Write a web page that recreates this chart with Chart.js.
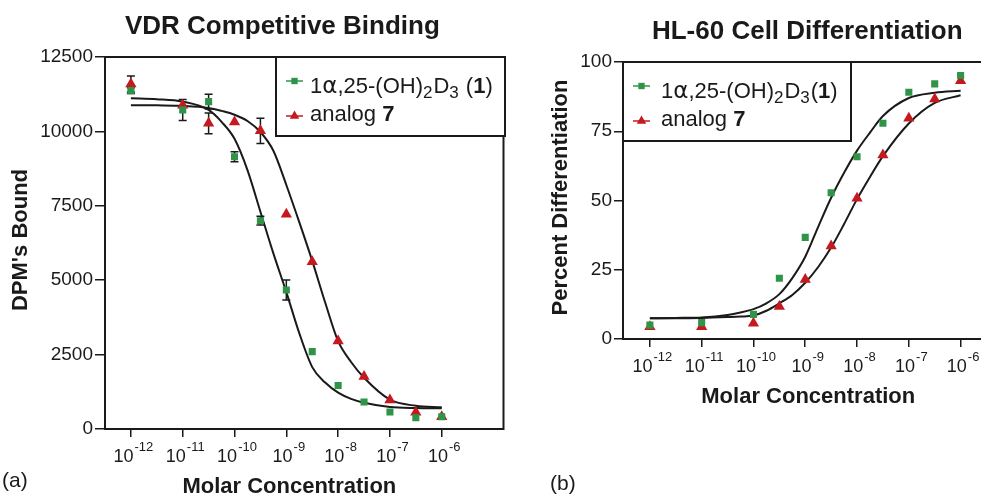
<!DOCTYPE html>
<html>
<head>
<meta charset="utf-8">
<title>VDR Competitive Binding / HL-60 Cell Differentiation</title>
<script src="https://cdn.jsdelivr.net/npm/chart.js"></script>
<style>
  html, body { margin: 0; padding: 0; background: #fff; overflow: hidden; }
  #wrap { position: relative; width: 981px; height: 494px; overflow: hidden; }
  canvas { position: absolute; top: 0; }
  #chartA { left: 0; }
  #chartB { left: 510px; }
</style>
</head>
<body>
<div id="wrap">
  <canvas id="chartA" width="510" height="494"></canvas>
  <canvas id="chartB" width="480" height="494"></canvas>
</div>
<script>
// concentrations are stored as log10(M)
const doseTicks = [-12, -11, -10, -9, -8, -7, -6];

// (a) VDR competitive binding - DPM's bound
const bindingDose = [-12, -11, -10.5, -10, -9.5, -9, -8.5, -8, -7.5, -7, -6.5, -6];
const bindingCalcitriol = [11370, 10720, 11000, 9150, 7000, 4670, 2600, 1460, 910, 570, 380, 410];
const bindingCalcitriolErr = [100, 350, 250, 170, 145, 335, 0, 0, 0, 0, 0, 0];
const bindingAnalog = [11590, 10880, 10270, 10320, 10020, 7215, 5620, 2960, 1760, 975, 560, 415];
const bindingAnalogErr = [270, 0, 350, 0, 425, 0, 0, 0, 0, 0, 0, 0];

// fitted curves
const fitDose = [-12, -11.5, -11, -10.5, -10.25, -10, -9.75, -9.5, -9.25, -9, -8.75, -8.5, -8.25, -8, -7.75, -7.5, -7, -6.5, -6];
const bindingCalcitriolFit = [11110, 11080, 11000, 10720, 10320, 9750, 8700, 7300, 5900, 4600, 3220, 2080, 1560, 1220, 1010, 880, 740, 705, 695];
const bindingAnalogFit = [10880, 10875, 10860, 10790, 10690, 10560, 10350, 9980, 9350, 8200, 6950, 5650, 4250, 2950, 2250, 1720, 985, 780, 730];

// (b) HL-60 cell differentiation - percent
const diffDose = [-12, -11, -10, -9.5, -9, -8.5, -8, -7.5, -7, -6.5, -6];
const diffCalcitriol = [5.0, 5.9, 8.9, 21.9, 36.7, 52.8, 65.8, 77.9, 89.1, 92.1, 95.1];
const diffAnalog = [4.4, 4.4, 5.7, 11.7, 21.5, 33.6, 50.8, 66.4, 79.7, 86.6, 93.2];
const diffCalcitriolFit = [7.5, 7.6, 7.8, 8.7, 9.6, 10.8, 12.9, 16.2, 22.0, 29.7, 40.5, 51.0, 60.0, 68.0, 74.5, 80.5, 87.0, 88.9, 89.6];
const diffAnalogFit = [7.5, 7.5, 7.6, 7.9, 8.1, 8.5, 10.2, 12.9, 15.9, 20.3, 26.0, 33.0, 41.5, 50.5, 58.5, 66.0, 77.8, 85.2, 88.0];

// legend texts split in pieces: n = normal, g = greek, sub = subscript, b = bold
const calcitriolLabelA = [['1', 'n'], ['α', 'g'], [',25-(OH)', 'n'], ['2', 'sub'], ['D', 'n'], ['3', 'sub'], [' (', 'n'], ['1', 'b'], [')', 'n']];
const calcitriolLabelB = [['1', 'n'], ['α', 'g'], [',25-(OH)', 'n'], ['2', 'sub'], ['D', 'n'], ['3', 'sub'], ['(', 'n'], ['1', 'b'], [')', 'n']];
const analogLabel = [['analog ', 'n'], ['7', 'b']];

const GREEN = '#2f9447';
const RED = '#c41a1f';
const INK = '#1a1a1a';
const FONT = '"Liberation Sans", Arial, Helvetica, sans-serif';

function pts(xs, ys) {
    return xs.map((x, i) => ({ x: x, y: ys[i] }));
}

function drawMarker(ctx, style, x, y, r, color) {
    ctx.fillStyle = color;
    ctx.beginPath();
    if (style === 'rect') {
        const s = r * Math.SQRT1_2;
        ctx.rect(x - s, y - s, 2 * s, 2 * s);
    } else {
        const w = r * Math.sin(Math.PI / 3);
        ctx.moveTo(x, y - r);
        ctx.lineTo(x + w, y + r / 2);
        ctx.lineTo(x - w, y + r / 2);
        ctx.closePath();
    }
    ctx.fill();
}

function pieceFont(st) {
    if (st === 'b') return 'bold 22px ' + FONT;
    if (st === 'sub') return '17px ' + FONT;
    if (st === 'g') return '23px "DejaVu Sans", ' + FONT;
    return '22px ' + FONT;
}

// vertical error bars under the markers
const errorBars = {
    id: 'errorBars',
    beforeDatasetsDraw(chart) {
        const ctx = chart.ctx;
        const yScale = chart.scales.y;
        chart.data.datasets.forEach((ds, i) => {
            if (!ds.errors) return;
            const meta = chart.getDatasetMeta(i);
            ctx.save();
            ctx.strokeStyle = INK;
            ctx.lineWidth = 1.5;
            meta.data.forEach((pt, j) => {
                const e = ds.errors[j];
                if (!e) return;
                const v = ds.data[j].y;
                const top = yScale.getPixelForValue(v + e);
                const bot = yScale.getPixelForValue(v - e);
                ctx.beginPath();
                ctx.moveTo(pt.x, top); ctx.lineTo(pt.x, bot);
                ctx.moveTo(pt.x - 4, top); ctx.lineTo(pt.x + 4, top);
                ctx.moveTo(pt.x - 4, bot); ctx.lineTo(pt.x + 4, bot);
                ctx.stroke();
            });
            ctx.restore();
        });
    }
};

// frame, titles, x tick labels with exponents, legend box
const panelDecor = {
    id: 'panelDecor',
    afterDraw(chart, args, opts) {
        const ctx = chart.ctx;
        const a = chart.chartArea;
        const x = chart.scales.x;
        ctx.save();

        ctx.strokeStyle = INK;
        ctx.lineWidth = 2;
        ctx.strokeRect(a.left, a.top, a.right - a.left, a.bottom - a.top);

        ctx.fillStyle = INK;
        ctx.textBaseline = 'alphabetic';
        ctx.textAlign = 'left';
        x.ticks.forEach(t => {
            const px = x.getPixelForValue(t.value);
            const exp = String(t.value);
            ctx.font = '18px ' + FONT;
            const w1 = ctx.measureText('10').width;
            ctx.font = '13px ' + FONT;
            const w2 = ctx.measureText(exp).width;
            const left = px - (w1 + w2) / 2 + 2;
            ctx.font = '18px ' + FONT;
            ctx.fillText('10', left, a.bottom + 33);
            ctx.font = '13px ' + FONT;
            ctx.fillText(exp, left + w1 + 1, a.bottom + 22);
        });

        const mid = (x.getPixelForValue(doseTicks[0]) + x.getPixelForValue(doseTicks[doseTicks.length - 1])) / 2;
        ctx.textAlign = 'center';
        ctx.font = 'bold 26px ' + FONT;
        ctx.fillText(opts.title, mid + opts.titleShift, a.top - 23);
        ctx.font = 'bold 22px ' + FONT;
        ctx.fillText('Molar Concentration', mid + 3, a.bottom + 64);

        ctx.save();
        ctx.translate(a.left + opts.yTitleDx, (a.top + a.bottom) / 2 - 3);
        ctx.rotate(-Math.PI / 2);
        ctx.textBaseline = 'middle';
        ctx.fillText(opts.yTitle, 0, 0);
        ctx.restore();

        ctx.textAlign = 'left';
        ctx.font = '21px ' + FONT;
        ctx.fillText(opts.panel, opts.panelX, opts.panelY);

        // legend
        const L = opts.legend;
        const bx = a.left + L.left;
        const by = a.top;
        ctx.fillStyle = '#fff';
        ctx.fillRect(bx, by, L.width, 79);
        ctx.strokeStyle = INK;
        ctx.lineWidth = 2;
        ctx.strokeRect(bx, by, L.width, 79);
        L.items.forEach((item, k) => {
            const ds = chart.data.datasets[item.dataset];
            const sy = by + (k ? 59 : 24);
            ctx.strokeStyle = ds.borderColor;
            ctx.lineWidth = 1.5;
            ctx.beginPath();
            ctx.moveTo(bx + 10, sy);
            ctx.lineTo(bx + 27, sy);
            ctx.stroke();
            drawMarker(ctx, ds.pointStyle, bx + 18.5, sy, ds.pointStyle === 'rect' ? 4.5 : 5.5, ds.backgroundColor);
            let tx = bx + L.textX;
            const base = by + (k ? 63.5 : 35.5);
            ctx.fillStyle = INK;
            item.parts.forEach(p => {
                const s = p[0], st = p[1];
                ctx.font = pieceFont(st);
                ctx.fillText(s, tx, st === 'sub' ? base + 5 : base);
                tx += ctx.measureText(s).width + (st === 'sub' ? 1 : 0);
            });
        });
        ctx.restore();
    }
};

function makeChart(canvasId, cfg) {
    const ctx = document.getElementById(canvasId).getContext('2d');
    return new Chart(ctx, {
        type: 'scatter',
        data: {
            datasets: [
                {
                    label: 'calcitriol',
                    data: pts(cfg.dose, cfg.calcitriol),
                    errors: cfg.calcitriolErr,
                    pointStyle: 'rect',
                    pointRadius: 5,
                    backgroundColor: GREEN,
                    borderColor: GREEN,
                    borderWidth: 0,
                    showLine: false
                },
                {
                    label: 'analog 7',
                    data: pts(cfg.dose, cfg.analog),
                    errors: cfg.analogErr,
                    pointStyle: 'triangle',
                    pointRadius: 6.5,
                    backgroundColor: RED,
                    borderColor: RED,
                    borderWidth: 0,
                    showLine: false
                },
                {
                    type: 'line',
                    label: 'calcitriol fit',
                    data: pts(fitDose, cfg.calcitriolFit),
                    borderColor: INK,
                    borderWidth: 2,
                    pointRadius: 0,
                    cubicInterpolationMode: 'monotone',
                    fill: false
                },
                {
                    type: 'line',
                    label: 'analog 7 fit',
                    data: pts(fitDose, cfg.analogFit),
                    borderColor: INK,
                    borderWidth: 2,
                    pointRadius: 0,
                    cubicInterpolationMode: 'monotone',
                    fill: false
                }
            ]
        },
        options: {
            responsive: false,
            animation: false,
            events: [],
            layout: { padding: { top: cfg.top, right: 5, bottom: 0, left: 0 } },
            plugins: {
                legend: { display: false },
                title: { display: false },
                tooltip: { enabled: false },
                panelDecor: cfg.decor
            },
            scales: {
                x: {
                    type: 'linear',
                    min: cfg.xMin,
                    max: cfg.xMax,
                    afterBuildTicks: s => { s.ticks = doseTicks.map(v => ({ value: v })); },
                    afterFit: s => { s.height = cfg.xHeight; },
                    ticks: { display: false },
                    border: { display: false },
                    grid: { drawOnChartArea: false, drawTicks: true, tickLength: 8, color: INK, lineWidth: 1.5 }
                },
                y: {
                    min: 0,
                    max: cfg.yMax,
                    afterFit: s => { s.width = cfg.yWidth; },
                    ticks: {
                        stepSize: cfg.yStep,
                        padding: 2,
                        color: INK,
                        font: { family: FONT, size: 19 },
                        callback: v => String(v)
                    },
                    border: { display: false },
                    grid: { drawOnChartArea: false, drawTicks: true, tickLength: cfg.yTick, color: INK, lineWidth: 1.5 }
                }
            }
        },
        plugins: [errorBars, panelDecor]
    });
}

makeChart('chartA', {
    dose: bindingDose,
    calcitriol: bindingCalcitriol,
    calcitriolErr: bindingCalcitriolErr,
    analog: bindingAnalog,
    analogErr: bindingAnalogErr,
    calcitriolFit: bindingCalcitriolFit,
    analogFit: bindingAnalogFit,
    top: 57, xHeight: 65, yWidth: 105, yTick: 10,
    xMin: -12.5, xMax: -4.808,
    yMax: 12500, yStep: 2500,
    decor: {
        title: 'VDR Competitive Binding', titleShift: -4,
        yTitle: "DPM's Bound", yTitleDx: -84,
        panel: '(a)', panelX: 2, panelY: 487,
        legend: {
            left: 171, width: 229, textX: 34,
            items: [{ dataset: 0, parts: calcitriolLabelA }, { dataset: 1, parts: analogLabel }]
        }
    }
});

makeChart('chartB', {
    dose: diffDose,
    calcitriol: diffCalcitriol,
    calcitriolErr: null,
    analog: diffAnalog,
    analogErr: null,
    calcitriolFit: diffCalcitriolFit,
    analogFit: diffAnalogFit,
    top: 62, xHeight: 155, yWidth: 113, yTick: 9,
    xMin: -12.519, xMax: -5.558,
    yMax: 100, yStep: 25,
    decor: {
        title: 'HL-60 Cell Differentiation', titleShift: 2,
        yTitle: 'Percent Differentiation', yTitleDx: -62,
        panel: '(b)', panelX: 40, panelY: 490,
        legend: {
            left: 0, width: 228, textX: 38,
            items: [{ dataset: 0, parts: calcitriolLabelB }, { dataset: 1, parts: analogLabel }]
        }
    }
});
</script>
</body>
</html>
